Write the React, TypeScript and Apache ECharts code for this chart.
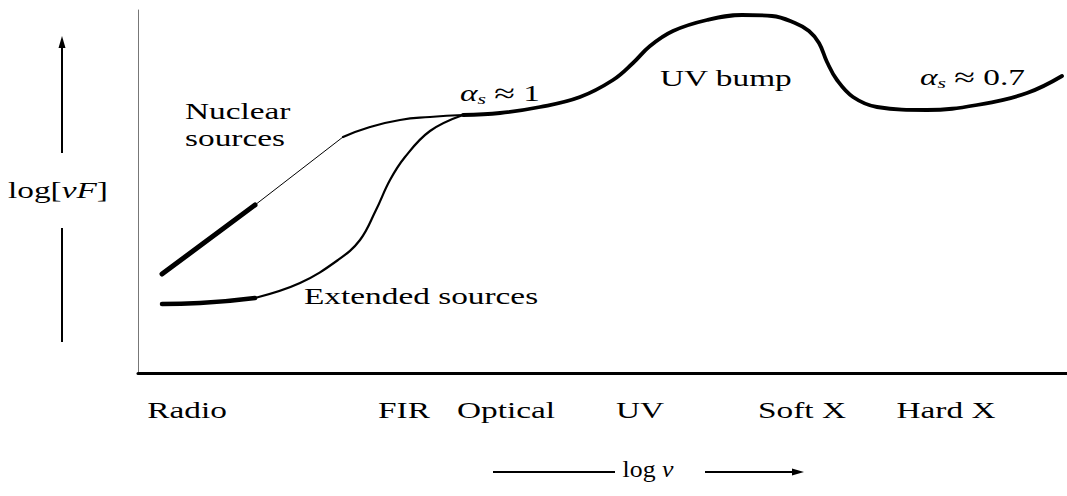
import React, { useEffect, useRef } from "react";
import * as echarts from "echarts";

// x and y are in the figure's own frame (x: log nu, y: log nuF, top = high)
const nuclearThick: number[][] = [[162, 274], [255, 205]];
const nuclearThin: number[][] = [[255, 205], [343, 137]];
const nuclearCurve: number[][] = [[343, 137], [370, 127], [400, 120], [430, 117], [463, 115]];
const extendedThick: number[][] = [[162, 304], [200, 303], [255, 298]];
const extendedCurve: number[][] = [
  [255, 298], [300, 283], [338, 260], [360, 240], [376, 210], [390, 180], [405, 157], [430, 131], [463, 115],
];
const mainCurve: number[][] = [
  [463, 115], [500, 113], [540, 107], [580, 97], [613, 80], [633, 63], [650, 46], [673, 31], [707, 20],
  [742, 15], [772, 16], [795, 23], [809, 31], [819, 43], [827, 62], [837, 80], [853, 97], [877, 107],
  [927, 110], [977, 105], [1027, 93], [1062, 76],
];
const bandNames: string[] = ["Radio", "FIR", "Optical", "UV", "Soft X", "Hard X"];
const bandPositions: number[] = [187, 404, 506, 640, 802, 946];

const FONT = "'Liberation Serif', 'DejaVu Serif', serif";
const FS = 23;
const SX = 1.45;

function line(data: number[][], width: number, smooth: boolean | number) {
  return {
    type: "line",
    data,
    smooth,
    showSymbol: false,
    symbol: "none",
    lineStyle: { color: "#000", width, cap: "round", join: "round" },
    silent: true,
  };
}

function txt(x: number, y: number, text: string, rich?: any, align = "left", sx = SX) {
  return {
    type: "text",
    x,
    y,
    scaleX: sx,
    silent: true,
    style: {
      text,
      fill: "#000",
      font: `${FS}px ${FONT}`,
      textAlign: align,
      textVerticalAlign: "middle",
      rich,
    },
  };
}

export default function App() {
  const ref = useRef<HTMLDivElement>(null);
  useEffect(() => {
    document.body.style.margin = "0";
    const chart = echarts.init(ref.current!, null, { renderer: "svg" });
    const mathRich = {
      i: { fontFamily: FONT, fontSize: FS, fontStyle: "italic", color: "#000" },
      s: { fontFamily: FONT, fontSize: 15, fontStyle: "italic", color: "#000", verticalAlign: "bottom", padding: [8, 0, 0, 0] },
      r: { fontFamily: FONT, fontSize: FS, color: "#000" },
      a: { fontFamily: FONT, fontSize: 26, color: "#000" },
    };
    chart.setOption({
      animation: false,
      grid: { left: 138, right: 0, top: 10, bottom: 123 },
      xAxis: {
        type: "value",
        min: 138,
        max: 1067,
        splitLine: { show: false },
        axisLine: { show: true, onZero: false, lineStyle: { color: "#000", width: 3 } },
        axisTick: { show: false },
        axisLabel: { show: false },
      },
      yAxis: {
        type: "value",
        inverse: true,
        min: 10,
        max: 373,
        splitLine: { show: false },
        axisLine: { show: true, onZero: false, lineStyle: { color: "#777", width: 1 } },
        axisTick: { show: false },
        axisLabel: { show: false },
      },
      series: [
        line(nuclearThick, 5, false),
        line(nuclearThin, 1, false),
        line(nuclearCurve, 2.2, 0.5),
        line(extendedThick, 4.5, 0.5),
        line(extendedCurve, 2.2, 0.4),
        line(mainCurve, 3.8, 0.4),
      ],
    });
    const bandLabels = bandNames.map((name, i) => {
      const px = chart.convertToPixel({ xAxisIndex: 0 }, bandPositions[i]) as number;
      return txt(px, 410, name, undefined, "center");
    });
    chart.setOption({
      graphic: [
        // vertical arrow
        { type: "line", silent: true, shape: { x1: 62, y1: 342, x2: 62, y2: 228 }, style: { stroke: "#000", lineWidth: 2 } },
        { type: "line", silent: true, shape: { x1: 62, y1: 153, x2: 62, y2: 46 }, style: { stroke: "#000", lineWidth: 2 } },
        { type: "polygon", silent: true, shape: { points: [[62, 36], [58.5, 48], [65.5, 48]] }, style: { fill: "#000" } },
        txt(58, 190, "{r|log[}{i|νF}{r|]}", mathRich, "center"),
        // horizontal arrow
        { type: "line", silent: true, shape: { x1: 493, y1: 472, x2: 615, y2: 472 }, style: { stroke: "#000", lineWidth: 2 } },
        { type: "line", silent: true, shape: { x1: 705, y1: 472, x2: 793, y2: 472 }, style: { stroke: "#000", lineWidth: 2 } },
        { type: "polygon", silent: true, shape: { points: [[804, 472], [792, 468.5], [792, 475.5]] }, style: { fill: "#000" } },
        txt(648, 469, "{r|log }{i|ν}", mathRich, "center", 1.12),
        // annotations
        txt(185, 111, "Nuclear"),
        txt(185, 138, "sources"),
        txt(304, 296, "Extended sources"),
        txt(460, 93, "{i|α}{s|s}{r| }{a|≈}{r| 1}", mathRich),
        txt(660, 78, "UV bump"),
        txt(920, 77, "{i|α}{s|s}{r| }{a|≈}{r| 0.7}", mathRich),
        ...bandLabels,
      ],
    });
    return () => chart.dispose();
  }, []);
  return <div ref={ref} style={{ width: 1067, height: 496 }} />;
}
